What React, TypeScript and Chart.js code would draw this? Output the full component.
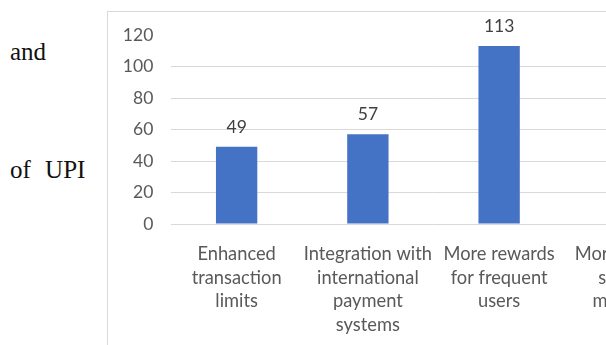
import React, { useEffect, useRef } from "react";
import { Chart, registerables } from "chart.js";

Chart.register(...registerables);

const categories: string[][] = [
  ["Enhanced", "transaction", "limits"],
  ["Integration with", "international", "payment", "systems"],
  ["More rewards", "for frequent", "users"],
  ["More security", "systems", "measures"],
];
const values: number[] = [49, 57, 113, 60];
const yTicks: number[] = [0, 20, 40, 60, 80, 100, 120];

const FONT = "Lato";

const valueLabels = {
  id: "valueLabels",
  afterDatasetsDraw(chart: any) {
    const ctx = chart.ctx;
    const meta = chart.getDatasetMeta(0);
    ctx.save();
    ctx.font = `17.5px ${FONT}`;
    ctx.fillStyle = "#404040";
    ctx.textAlign = "center";
    ctx.textBaseline = "middle";
    meta.data.forEach((bar: any, i: number) => {
      ctx.fillText(String(values[i]), bar.x, bar.y - 19.5);
    });
    ctx.restore();
  },
};

export default function App() {
  const ref = useRef<HTMLCanvasElement>(null);
  useEffect(() => {
    if (!ref.current) return;
    const chart = new Chart(ref.current, {
      type: "bar",
      data: {
        labels: categories,
        datasets: [
          {
            data: values,
            backgroundColor: "#4472C4",
            borderWidth: 0,
            categoryPercentage: 1,
            barPercentage: 0.315,
          },
        ],
      },
      options: {
        animation: false,
        responsive: false,
        maintainAspectRatio: false,
        devicePixelRatio: 1,
        layout: { padding: { top: 23, right: 52, left: 0, bottom: 0 } },
        plugins: { legend: { display: false }, tooltip: { enabled: false } },
        scales: {
          x: {
            grid: { display: false, drawTicks: false },
            border: { display: false },
            ticks: {
              color: "#595959",
              font: { family: FONT, size: 18.3, lineHeight: 1.3 },
              padding: 18,
              maxRotation: 0,
              autoSkip: false,
            },
            afterFit: (s: any) => {
              s.height = 360 - 212;
              s.paddingLeft = 0;
              s.paddingRight = 0;
              s.paddingTop = 0;
              s.paddingBottom = 0;
            },
          },
          y: {
            min: 0,
            max: 120,
            afterBuildTicks: (s: any) => {
              s.ticks = yTicks.map((v) => ({ value: v }));
            },
            grid: {
              drawTicks: false,
              color: (c: any) => (c.tick && c.tick.value === 120 ? "rgba(0,0,0,0)" : "#D9D9D9"),
              lineWidth: 1,
            },
            border: { display: false },
            ticks: {
              color: "#595959",
              font: { family: FONT, size: 17.5 },
              padding: 17.7,
            },
            afterFit: (s: any) => {
              s.width = 63;
              s.paddingTop = 0;
              s.paddingBottom = 0;
              s.paddingLeft = 0;
              s.paddingRight = 0;
            },
          },
        },
      },
      plugins: [valueLabels],
    });
    return () => chart.destroy();
  }, []);

  return (
    <div
      style={{
        position: "fixed",
        left: 0,
        top: 0,
        width: 606,
        height: 345,
        overflow: "hidden",
        background: "#fff",
      }}
    >
      <div
        style={{
          position: "absolute",
          left: 10,
          top: 52,
          fontFamily: "'Liberation Serif', 'Times New Roman', serif",
          fontSize: 25,
          color: "#111",
          lineHeight: 0,
          whiteSpace: "nowrap",
        }}
      >
        and
      </div>
      <div
        style={{
          position: "absolute",
          left: 10,
          top: 170,
          fontFamily: "'Liberation Serif', 'Times New Roman', serif",
          fontSize: 25,
          color: "#111",
          lineHeight: 0,
          wordSpacing: 8,
          whiteSpace: "nowrap",
        }}
      >
        of UPI
      </div>
      <div
        style={{
          position: "absolute",
          left: 107,
          top: 11,
          width: 640,
          height: 360,
          borderLeft: "1px solid #D9D9D9",
          borderTop: "1px solid #D9D9D9",
        }}
      >
        <canvas ref={ref} width={640} height={360} style={{ display: "block", width: 640, height: 360 }} />
      </div>
    </div>
  );
}
